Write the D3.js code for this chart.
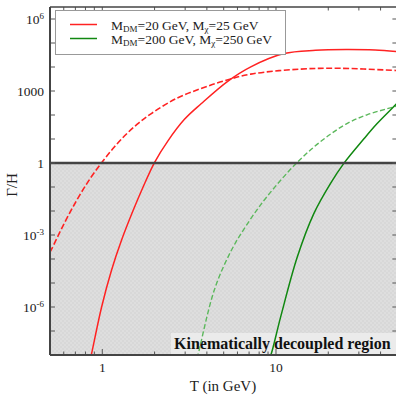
<!DOCTYPE html>
<html>
<head>
<meta charset="utf-8">
<script src="https://cdn.jsdelivr.net/npm/d3@7"></script>
<style>
  html, body { margin: 0; padding: 0; background: #fff; }
  svg { display: block; }
  text { font-family: "Liberation Serif", serif; fill: #222; }
</style>
</head>
<body>
<div id="chart"></div>
<script>
// temperatures (GeV) and Gamma/H
const redSolidT = [0.846, 0.868, 0.991, 1.13, 1.29, 1.49, 1.72, 2.001, 2.388, 2.972, 3.705, 5.27, 7.16, 11.11, 16.88, 25.6, 37.2, 50];
const redSolidG = [5e-9, 1.15e-8, 1e-6, 3.4e-5, 6.0e-4, 8.8e-3, 0.102, 1.07, 8.4, 66, 293, 2540, 1.02e4, 3.65e4, 4.97e4, 5.3e4, 5.06e4, 4.37e4];

const redDashT = [0.5, 0.5125, 0.604, 0.7125, 0.840, 0.991, 1.169, 1.378, 1.625, 1.916, 2.665, 3.705, 5.04, 7.16, 13.87, 23.5, 49.1, 50];
const redDashG = [1.95e-4, 2.71e-4, 3.07e-3, 2.79e-2, 0.194, 1.02, 4.51, 16.2, 47.3, 115, 487, 1271, 2660, 5060, 8180, 8830, 7150, 7100];

const greenDashT = [3.42, 3.55, 4.41, 5.50, 6.86, 8.54, 10.64, 13.26, 16.51, 20.57, 25.6, 33.4, 47.4, 50];
const greenDashG = [3.7e-9, 9.7e-9, 5.0e-6, 2.1e-4, 3.0e-3, 2.8e-2, 0.19, 1.07, 4.6, 15.7, 44, 102, 215, 240];

const greenSolidT = [9.08, 9.33, 10.63, 13.26, 16.51, 20.57, 24.52, 31.9, 38.1, 47.4, 50];
const greenSolidG = [6.6e-9, 9.7e-9, 3.8e-7, 1.21e-4, 7.8e-3, 0.139, 0.944, 9.7, 43, 215, 320];

const xTickLabels = [1, 10];
const yTickLabels = [1e-6, 1e-3, 1, 1000, 1e6];
const legendLabels = [
  {main: 'M', sub: 'DM', rest: '=20 GeV, M', sub2: 'χ', rest2: '=25 GeV'},
  {main: 'M', sub: 'DM', rest: '=200 GeV, M', sub2: 'χ', rest2: '=250 GeV'}
];
const legendColors = ['#f22', '#118811'];

const width = 396;
const height = 396;
const margin = {top: 7, right: -1.4, bottom: 41, left: 50};

const svg = d3.select('#chart').append('svg')
  .attr('width', width)
  .attr('height', height);

const x = d3.scaleLog()
  .domain([0.5, 50])
  .range([margin.left, width - margin.right]);
const y = d3.scaleLog()
  .domain([1e-8, Math.pow(10, 6.5)])
  .range([height - margin.bottom, margin.top]);

const x0 = x.range()[0];
const x1 = x.range()[1];
const yTop = y.range()[1];
const yBot = y.range()[0];

// checkered fill for the decoupled region
const defs = svg.append('defs');
const pat = defs.append('pattern')
  .attr('id', 'checker')
  .attr('width', 4)
  .attr('height', 4)
  .attr('patternUnits', 'userSpaceOnUse');
pat.append('rect').attr('width', 4).attr('height', 4).attr('fill', '#d8d8d8');
pat.append('rect').attr('width', 2).attr('height', 2).attr('fill', '#dedede');
pat.append('rect').attr('x', 2).attr('y', 2).attr('width', 2).attr('height', 2).attr('fill', '#dedede');

defs.append('clipPath').attr('id', 'plotclip')
  .append('rect')
  .attr('x', x0).attr('y', yTop)
  .attr('width', x1 - x0).attr('height', yBot - yTop);

svg.append('rect')
  .attr('x', x0).attr('y', y(1))
  .attr('width', x1 - x0).attr('height', yBot - y(1))
  .attr('fill', 'url(#checker)');

// label box in the shaded area
svg.append('rect')
  .attr('x', 171).attr('y', 333)
  .attr('width', x1 - 171).attr('height', 21)
  .attr('fill', '#ebebeb');
svg.append('text')
  .attr('x', 174).attr('y', 349)
  .style('font-size', '16px')
  .style('font-weight', 'bold')
  .style('fill', '#111')
  .text('Kinematically decoupled region');

// curves
const line = d3.line()
  .x((d)=> x(d[0]))
  .y((d)=> y(d[1]))
  .curve(d3.curveCatmullRom.alpha(0.5));

const curves = [
  {t: redSolidT, g: redSolidG, color: '#f22', dash: null, w: 1.5},
  {t: redDashT, g: redDashG, color: '#f22', dash: '6,2.5', w: 1.6},
  {t: greenDashT, g: greenDashG, color: '#5cb85c', dash: '5,2.5', w: 1.4},
  {t: greenSolidT, g: greenSolidG, color: '#118811', dash: null, w: 1.5}
];

const cg = svg.append('g').attr('clip-path', 'url(#plotclip)');
curves.forEach((c)=> {
  cg.append('path')
    .datum(c.t.map((t, i)=> [t, c.g[i]]))
    .attr('fill', 'none')
    .attr('stroke', c.color)
    .attr('stroke-width', c.w)
    .attr('stroke-dasharray', c.dash)
    .attr('d', line);
});

// the Gamma = H line
svg.append('line')
  .attr('x1', x0).attr('x2', x1)
  .attr('y1', y(1)).attr('y2', y(1))
  .attr('stroke', '#444')
  .attr('stroke-width', 2.5);

// ticks
const decades = d3.range(-8, 7).map((e)=> Math.pow(10, e));
const minorX = x.ticks();
const tickColor = '#555';

const tg = svg.append('g');
decades.forEach((d)=> {
  tg.append('line').attr('x1', x0).attr('x2', x0 + 5).attr('y1', y(d)).attr('y2', y(d))
    .attr('stroke', tickColor).attr('stroke-width', 1);
  tg.append('line').attr('x1', x1 - 5).attr('x2', x1).attr('y1', y(d)).attr('y2', y(d))
    .attr('stroke', tickColor).attr('stroke-width', 1);
});
minorX.forEach((d)=> {
  const major = xTickLabels.includes(d);
  const len = major ? 6 : 3.5;
  tg.append('line').attr('x1', x(d)).attr('x2', x(d)).attr('y1', yBot).attr('y2', yBot - len)
    .attr('stroke', tickColor).attr('stroke-width', 1);
  tg.append('line').attr('x1', x(d)).attr('x2', x(d)).attr('y1', yTop).attr('y2', yTop + len)
    .attr('stroke', tickColor).attr('stroke-width', 1);
});

// frame
svg.append('line').attr('x1', x0).attr('x2', x0).attr('y1', yTop).attr('y2', yBot)
  .attr('stroke', '#444').attr('stroke-width', 2);
svg.append('line').attr('x1', x0).attr('x2', x1).attr('y1', yBot).attr('y2', yBot)
  .attr('stroke', '#444').attr('stroke-width', 2);
svg.append('line').attr('x1', x0).attr('x2', x1).attr('y1', yTop).attr('y2', yTop)
  .attr('stroke', '#444').attr('stroke-width', 1.5);

// tick labels
xTickLabels.forEach((d)=> {
  svg.append('text')
    .attr('x', x(d)).attr('y', yBot + 17)
    .attr('text-anchor', 'middle')
    .style('font-size', '13.5px')
    .text(d);
});

yTickLabels.forEach((d)=> {
  const e = Math.round(Math.log10(d));
  const t = svg.append('text')
    .attr('x', x0 - 6).attr('y', y(d) + 4.5)
    .attr('text-anchor', 'end')
    .style('font-size', '13.5px');
  if (e === 0 || e === 3) {
    t.text(String(d));
  } else {
    t.append('tspan').text('10');
    t.append('tspan').attr('dy', -5).style('font-size', '9px').text(e);
  }
});

// axis titles
svg.append('text')
  .attr('x', 223).attr('y', 391)
  .attr('text-anchor', 'middle')
  .style('font-size', '15px')
  .text('T (in GeV)');
svg.append('text')
  .attr('transform', `translate(17,${y(1) + 22}) rotate(-90)`)
  .attr('text-anchor', 'middle')
  .style('font-size', '15px')
  .text('Γ/H');

// legend
const lg = svg.append('g');
lg.append('rect')
  .attr('x', 55.5).attr('y', 10.5)
  .attr('width', 230).attr('height', 44)
  .attr('fill', '#fff')
  .attr('stroke', '#999')
  .attr('stroke-width', 1);
legendLabels.forEach((l, i)=> {
  const ly = 24.5 + i * 14;
  lg.append('line')
    .attr('x1', 70).attr('x2', 97).attr('y1', ly).attr('y2', ly)
    .attr('stroke', legendColors[i]).attr('stroke-width', 1.5);
  const t = lg.append('text')
    .attr('x', 111).attr('y', ly + 5)
    .style('font-size', '13.5px');
  t.append('tspan').text(l.main);
  t.append('tspan').attr('dy', 2.5).style('font-size', '9px').text(l.sub);
  t.append('tspan').attr('dy', -2.5).text(l.rest);
  t.append('tspan').attr('dy', 2.5).style('font-size', '9px').text(l.sub2);
  t.append('tspan').attr('dy', -2.5).text(l.rest2);
});
</script>
</body>
</html>
